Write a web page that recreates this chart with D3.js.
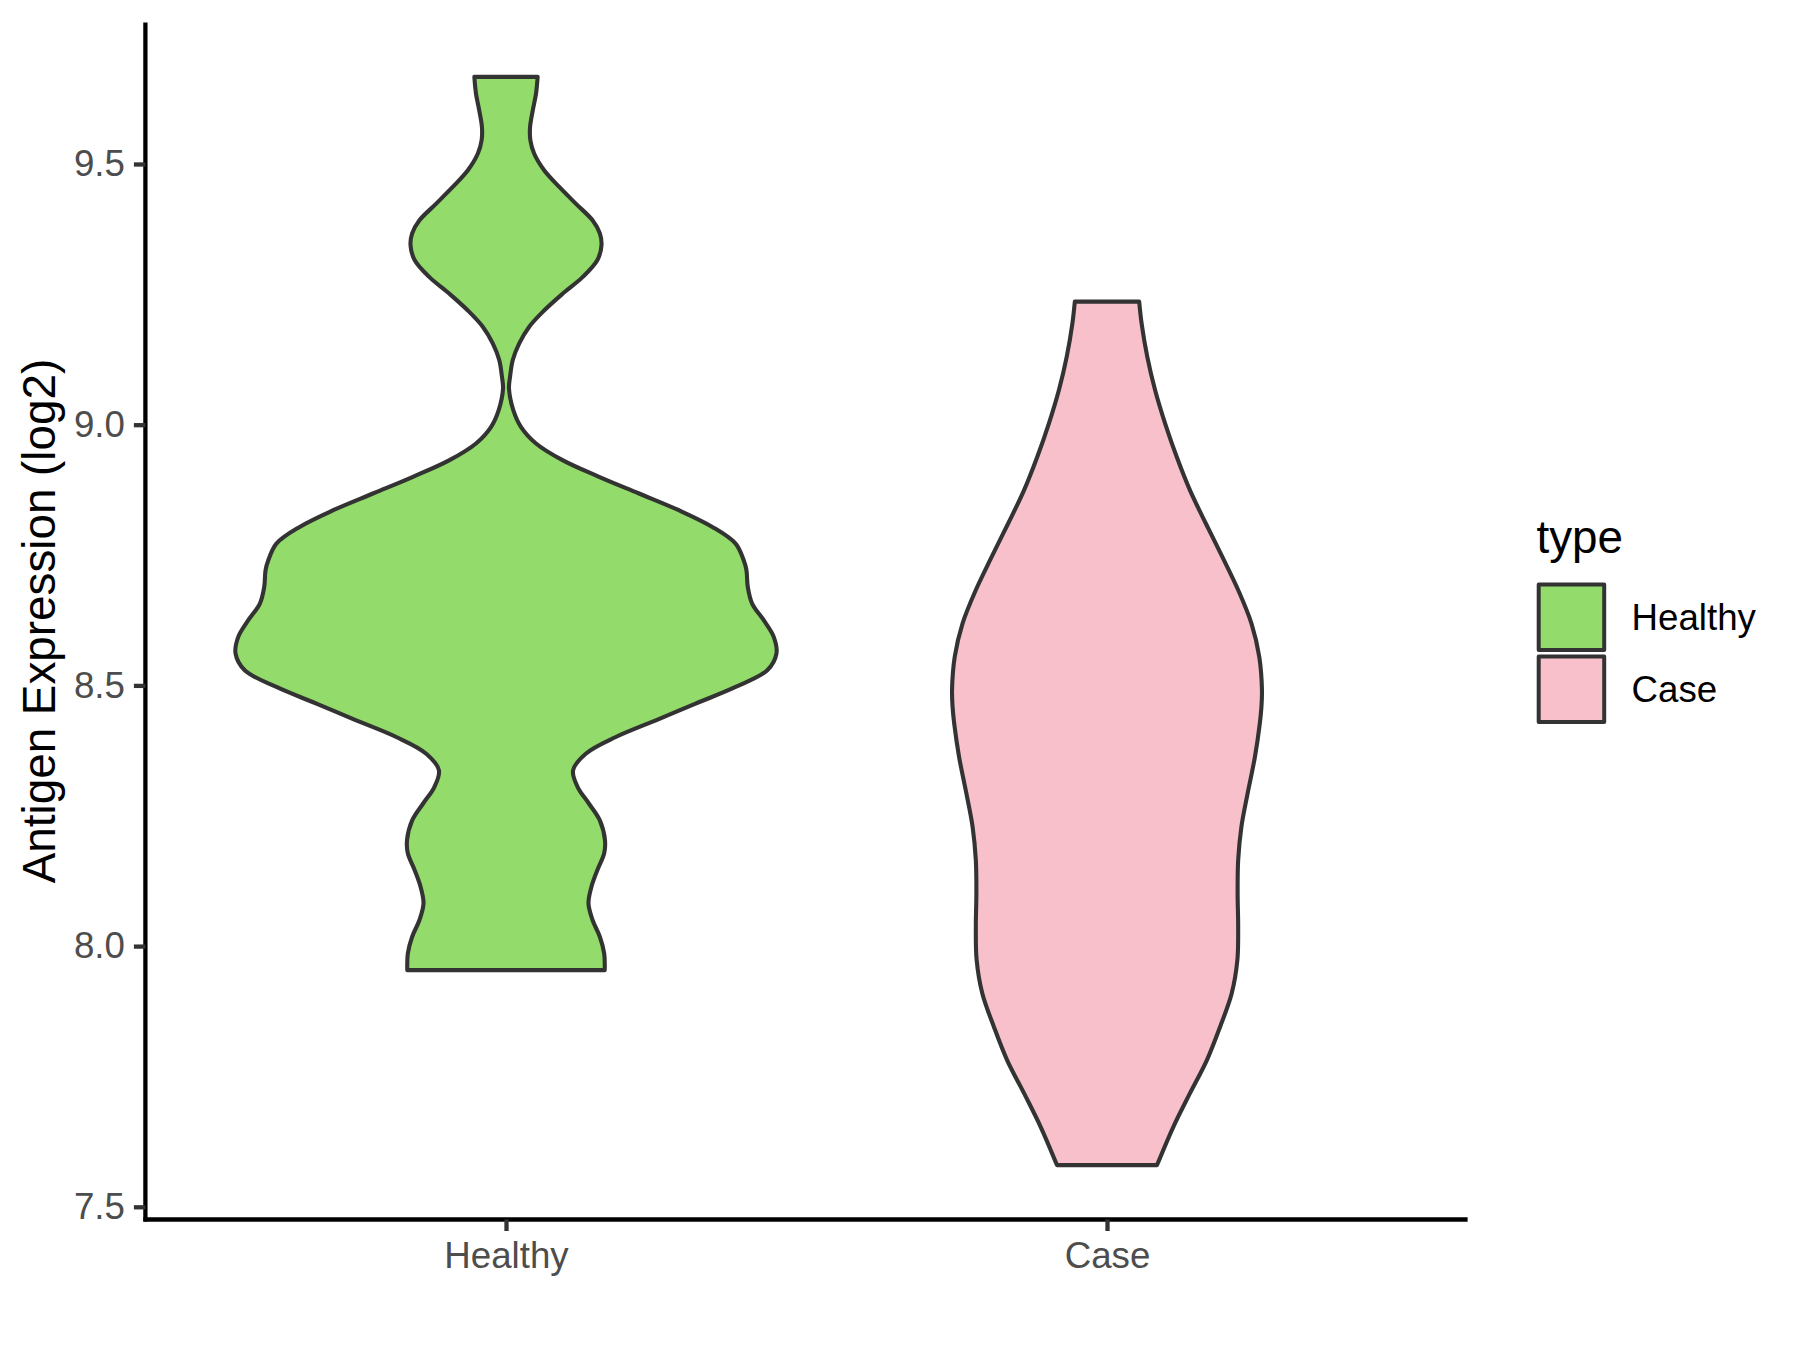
<!DOCTYPE html>
<html>
<head>
<meta charset="utf-8">
<script src="https://cdn.jsdelivr.net/npm/d3@7"></script>
<style>
  body { margin: 0; background: #fff; }
  svg { display: block; font-family: "Liberation Sans", Arial, sans-serif; }
</style>
</head>
<body>
<svg width="1800" height="1350"></svg>
<script>
// groups on the x axis, in drawing order
var categories = ["Healthy", "Case"];
var fills = ["#93DB6A", "#F7C0CB"];

// violin outlines: value (log2) and relative half-width (1 = widest)
var healthyValues = [9.667, 9.635, 9.603, 9.571, 9.546, 9.520, 9.488, 9.456, 9.424, 9.392,
    9.367, 9.344, 9.316, 9.283, 9.251, 9.219, 9.188, 9.156, 9.124, 9.092,
    9.069, 9.028, 8.996, 8.964, 8.932, 8.900, 8.868, 8.836, 8.804, 8.772,
    8.740, 8.721, 8.689, 8.657, 8.625, 8.593, 8.561, 8.529, 8.497, 8.465,
    8.433, 8.401, 8.369, 8.337, 8.305, 8.273, 8.241, 8.203, 8.178, 8.146,
    8.114, 8.082, 8.050, 8.018, 7.986, 7.954];
var healthyWidths = [0.117, 0.111, 0.099, 0.089, 0.090, 0.104, 0.141, 0.197, 0.258, 0.320,
    0.347, 0.353, 0.338, 0.283, 0.209, 0.141, 0.086, 0.049, 0.025, 0.015,
    0.011, 0.027, 0.055, 0.111, 0.209, 0.344, 0.492, 0.639, 0.763, 0.849,
    0.879, 0.889, 0.894, 0.910, 0.953, 0.990, 1.000, 0.966, 0.849, 0.701,
    0.554, 0.406, 0.295, 0.248, 0.265, 0.307, 0.347, 0.366, 0.363, 0.338,
    0.316, 0.305, 0.320, 0.347, 0.363, 0.365];

var caseValues = [9.236, 9.194, 9.130, 9.066, 9.002, 8.938, 8.874, 8.810, 8.746, 8.683,
    8.619, 8.555, 8.491, 8.459, 8.427, 8.363, 8.293, 8.229, 8.165, 8.101,
    8.037, 7.973, 7.909, 7.845, 7.781, 7.717, 7.653, 7.580];
var caseWidths = [0.119, 0.128, 0.149, 0.178, 0.215, 0.258, 0.307, 0.366, 0.427, 0.485,
    0.534, 0.563, 0.573, 0.571, 0.565, 0.547, 0.520, 0.497, 0.485, 0.483,
    0.485, 0.482, 0.461, 0.418, 0.369, 0.306, 0.245, 0.185];

var yTicks = [7.5, 8.0, 8.5, 9.0, 9.5];
var yTitle = "Antigen Expression (log2)";
var legendTitle = "type";

var svg = d3.select("svg");

var panel = { left: 145.4, right: 1467.6, top: 22.5, bottom: 1219.5 };

var series = [
    { name: categories[0], values: healthyValues, widths: healthyWidths, fill: fills[0] },
    { name: categories[1], values: caseValues, widths: caseWidths, fill: fills[1] }
];

// ggplot style 5% expansion around the data range
var allValues = healthyValues.concat(caseValues);
var lo = d3.min(allValues), hi = d3.max(allValues);
var pad = (hi - lo) * 0.05;

var y = d3.scaleLinear()
    .domain([lo - pad, hi + pad])
    .range([panel.bottom, panel.top]);

var x = d3.scalePoint()
    .domain(categories)
    .range([panel.left, panel.right])
    .padding(0.6);

var halfWidth = d3.scaleLinear()
    .domain([0, 1])
    .range([0, x.step() * 0.45]);

// violins
series.forEach(function(s) {
    var cx = x(s.name);
    var pts = s.values.map(function(v, i) { return { v: v, w: s.widths[i] }; });
    var area = d3.area()
        .y(function(d) { return y(d.v); })
        .x0(function(d) { return cx - halfWidth(d.w); })
        .x1(function(d) { return cx + halfWidth(d.w); })
        .curve(d3.curveCatmullRom.alpha(0.5));

    svg.append("path")
        .datum(pts)
        .attr("d", area)
        .attr("fill", s.fill)
        .attr("stroke", "#333333")
        .attr("stroke-width", 4.1)
        .attr("stroke-linejoin", "round");
});

// y axis
var yAxis = svg.append("g")
    .attr("transform", "translate(" + panel.left + ",0)")
    .call(d3.axisLeft(y)
        .tickValues(yTicks)
        .tickFormat(d3.format(".1f"))
        .tickSize(11.5)
        .tickSizeOuter(0)
        .tickPadding(9));

// x axis
var xAxis = svg.append("g")
    .attr("transform", "translate(0," + panel.bottom + ")")
    .call(d3.axisBottom(x)
        .tickSize(11.5)
        .tickSizeOuter(0)
        .tickPadding(10.5));

[yAxis, xAxis].forEach(function(ax) {
    ax.select(".domain")
        .attr("stroke", "#000")
        .attr("stroke-width", 4.3);
    ax.selectAll(".tick line")
        .attr("stroke", "#333333")
        .attr("stroke-width", 4.3);
    ax.selectAll(".tick text")
        .attr("fill", "#4D4D4D")
        .style("font-size", "36.7px")
        .style("font-family", "'Liberation Sans', Arial, sans-serif");
});

// extend the y axis line to meet the x axis line
yAxis.select(".domain")
    .attr("d", "M0," + (panel.top) + "V" + (panel.bottom + 2));

xAxis.select(".domain")
    .attr("d", "M" + (panel.left - 2) + ",0H" + panel.right);

// y axis title
svg.append("text")
    .attr("transform", "translate(55," + ((panel.top + panel.bottom) / 2) + ") rotate(-90)")
    .attr("text-anchor", "middle")
    .attr("fill", "#000")
    .style("font-size", "45.8px")
    .text(yTitle);

// legend
var legend = svg.append("g")
    .attr("transform", "translate(1536.5,0)");

legend.append("text")
    .attr("x", 0)
    .attr("y", 553)
    .attr("fill", "#000")
    .style("font-size", "45.8px")
    .text(legendTitle);

var keySize = 72;
var keys = legend.selectAll(".key")
    .data(series)
    .enter()
    .append("g")
    .attr("class", "key")
    .attr("transform", function(d, i) { return "translate(0," + (581.5 + i * keySize) + ")"; });

keys.append("rect")
    .attr("x", 2.2)
    .attr("y", 3)
    .attr("width", 65.5)
    .attr("height", 65.5)
    .attr("fill", function(d) { return d.fill; })
    .attr("stroke", "#333333")
    .attr("stroke-width", 4)
    .attr("stroke-linejoin", "round");

keys.append("text")
    .attr("x", 95)
    .attr("y", keySize / 2)
    .attr("dy", "0.35em")
    .attr("fill", "#000")
    .style("font-size", "36.7px")
    .text(function(d) { return d.name; });
</script>
</body>
</html>
